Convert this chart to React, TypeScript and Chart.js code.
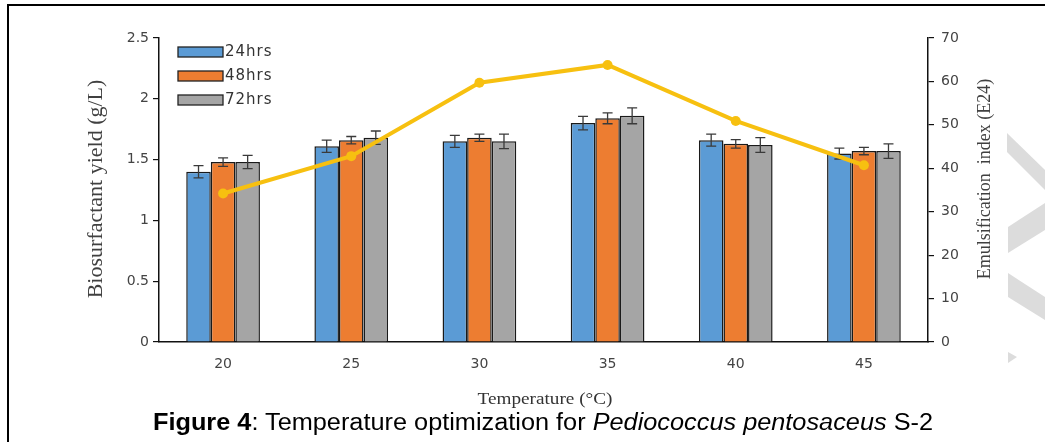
import React, { useEffect, useRef } from "react";
import { Chart, registerables } from "chart.js";

Chart.register(...registerables);

// ---- data ----
const temperatures = ["20", "25", "30", "35", "40", "45"];
const yield24 = [1.4, 1.61, 1.65, 1.8, 1.66, 1.55];
const yield48 = [1.48, 1.66, 1.68, 1.84, 1.63, 1.57];
const yield72 = [1.48, 1.68, 1.65, 1.86, 1.62, 1.57];
const err24 = [0.05, 0.05, 0.05, 0.055, 0.05, 0.045];
const err48 = [0.035, 0.03, 0.03, 0.045, 0.035, 0.03];
const err72 = [0.055, 0.055, 0.06, 0.065, 0.06, 0.06];
const emulsification = [34.2, 42.8, 59.7, 63.8, 50.9, 40.7];
const seriesLabels = ["24hrs", "48hrs", "72hrs"];
const leftTitle = "Biosurfactant yield (g/L)";
const rightTitle = "Emulsification  index (E24)";
const xTitle = "Temperature (°C)";

const W = 1045;
const H = 442;

const errorBars = {
  id: "errorBars",
  afterDatasetDraw(chart: any, args: any) {
    const ds = chart.data.datasets[args.index];
    if (!ds.errors) return;
    const ys = chart.scales.y;
    const ctx = chart.ctx;
    ctx.save();
    ctx.strokeStyle = "#3a3a3a";
    ctx.lineWidth = 1.3;
    args.meta.data.forEach((bar: any, i: number) => {
      const v = ds.data[i];
      const e = ds.errors[i];
      const x = bar.x;
      const yt = ys.getPixelForValue(v + e);
      const yb = ys.getPixelForValue(v - e);
      ctx.beginPath();
      ctx.moveTo(x, yt);
      ctx.lineTo(x, yb);
      ctx.moveTo(x - 5, yt);
      ctx.lineTo(x + 5, yt);
      ctx.moveTo(x - 5, yb);
      ctx.lineTo(x + 5, yb);
      ctx.stroke();
    });
    ctx.restore();
  },
};

const decorations = {
  id: "decorations",
  afterDraw(chart: any) {
    const ctx = chart.ctx;
    // legend
    const bars = chart.data.datasets.filter((d: any) => d.type === "bar");
    ctx.save();
    bars.forEach((d: any, i: number) => {
      const y = 47 + i * 24;
      ctx.fillStyle = d.backgroundColor;
      ctx.fillRect(178, y, 45, 10);
      ctx.strokeStyle = "#222";
      ctx.lineWidth = 1.3;
      ctx.strokeRect(178, y, 45, 10);
      ctx.fillStyle = "#333";
      ctx.font = '15px "DejaVu Sans"';
      ctx.textBaseline = "middle";
      ctx.textAlign = "left";
      (ctx as any).letterSpacing = "1px";
      ctx.fillText(d.label, 225, y + 5);
      (ctx as any).letterSpacing = "0px";
    });
    // axis titles
    ctx.fillStyle = "#404040";
    ctx.textAlign = "center";
    ctx.textBaseline = "middle";
    ctx.save();
    ctx.translate(96, 189);
    ctx.rotate(-Math.PI / 2);
    ctx.font = '22px "Liberation Serif"';
    ctx.fillText(leftTitle, 0, 0);
    ctx.restore();
    ctx.save();
    ctx.translate(985, 179);
    ctx.rotate(-Math.PI / 2);
    ctx.font = '18px "Liberation Serif"';
    ctx.fillText(rightTitle, 0, 0);
    ctx.restore();
    ctx.save();
    ctx.translate(545, 400);
    ctx.scale(1.13, 1);
    ctx.font = '17px "Liberation Serif"';
    ctx.fillStyle = "#333";
    ctx.fillText(xTitle, 0, 0);
    ctx.restore();
    ctx.restore();
  },
};

export default function App() {
  const ref = useRef<HTMLCanvasElement>(null);
  useEffect(() => {
    if (!ref.current) return;
    const tickFont = { family: '"DejaVu Sans"', size: 14 };
    const chart = new Chart(ref.current, {
      data: {
        labels: temperatures,
        datasets: [
          {
            type: "line",
            label: "E24",
            data: emulsification,
            yAxisID: "y1",
            borderColor: "#F7C010",
            backgroundColor: "#F7C010",
            borderWidth: 4,
            pointRadius: 5,
            pointBorderWidth: 0,
            order: 0,
          } as any,
          {
            type: "bar",
            label: seriesLabels[0],
            data: yield24,
            errors: err24,
            yAxisID: "y",
            backgroundColor: "#5B9BD5",
            borderColor: "#1a1a1a",
            borderWidth: 1.5,
            order: 1,
          } as any,
          {
            type: "bar",
            label: seriesLabels[1],
            data: yield48,
            errors: err48,
            yAxisID: "y",
            backgroundColor: "#ED7D31",
            borderColor: "#1a1a1a",
            borderWidth: 1.5,
            order: 1,
          } as any,
          {
            type: "bar",
            label: seriesLabels[2],
            data: yield72,
            errors: err72,
            yAxisID: "y",
            backgroundColor: "#A5A5A5",
            borderColor: "#1a1a1a",
            borderWidth: 1.5,
            order: 1,
          } as any,
        ],
      },
      options: {
        responsive: false,
        animation: false,
        layout: { padding: { top: 38, left: 0, right: 0, bottom: 0 } },
        datasets: { bar: { categoryPercentage: 0.575, barPercentage: 1 } },
        plugins: { legend: { display: false }, tooltip: { enabled: false } },
        scales: {
          x: {
            grid: { display: false },
            border: { display: true, color: "#111", width: 1.5 },
            ticks: { color: "#444", font: tickFont, padding: 6 },
            afterFit: (s: any) => {
              s.height = 100;
            },
          },
          y: {
            position: "left",
            min: 0,
            max: 2.5,
            ticks: {
              stepSize: 0.5,
              color: "#444",
              font: tickFont,
              padding: 4,
              callback: (v: any) => String(v),
            },
            grid: { drawOnChartArea: false, drawTicks: true, tickLength: 6, color: "#111", lineWidth: 1.2 },
            border: { display: true, color: "#111", width: 1.5 },
            afterFit: (s: any) => {
              s.width = 159;
            },
          },
          y1: {
            position: "right",
            min: 0,
            max: 70,
            ticks: {
              stepSize: 10,
              color: "#444",
              font: tickFont,
              padding: 7,
              callback: (v: any) => String(v),
            },
            grid: { drawOnChartArea: false, drawTicks: true, tickLength: 6, color: "#111", lineWidth: 1.2 },
            border: { display: true, color: "#111", width: 1.5 },
            afterFit: (s: any) => {
              s.width = W - 928;
            },
          },
        },
      } as any,
      plugins: [errorBars, decorations],
    });
    return () => chart.destroy();
  }, []);

  return (
    <div
      style={{
        position: "fixed",
        left: 0,
        top: 0,
        width: W,
        height: H,
        background: "#fff",
        overflow: "hidden",
      }}
    >
      <div
        style={{
          position: "absolute",
          left: 7,
          top: 4,
          width: W + 20,
          height: H + 20,
          borderTop: "2.5px solid #000",
          borderLeft: "2.5px solid #000",
        }}
      />
      <svg width={W} height={H} style={{ position: "absolute", left: 0, top: 0 }}>
        <g fill="#dcdcdc">
          <polygon points="1007,133 1045,170 1045,190 1007,152" />
          <polygon points="1045,203 1045,230 1008,253 1008,227" />
          <polygon points="1008,273 1045,297 1045,320 1008,297" />
          <polygon points="1008,352 1017,357 1008,363" />
        </g>
      </svg>
      <canvas
        ref={ref}
        width={W}
        height={H}
        style={{ position: "absolute", left: 0, top: 0, width: W, height: H }}
      />
      <div
        style={{
          position: "absolute",
          left: 0,
          top: 409,
          width: 1086,
          textAlign: "center",
          fontFamily: '"Liberation Sans", Arial, sans-serif',
          fontSize: 23,
          lineHeight: "27px",
          color: "#000",
          whiteSpace: "nowrap",
          transform: "scaleX(1.1)",
          transformOrigin: "543px 0",
        }}
      >
        <b>Figure 4</b>: Temperature optimization for <i>Pediococcus pentosaceus</i> S-2
      </div>
    </div>
  );
}
